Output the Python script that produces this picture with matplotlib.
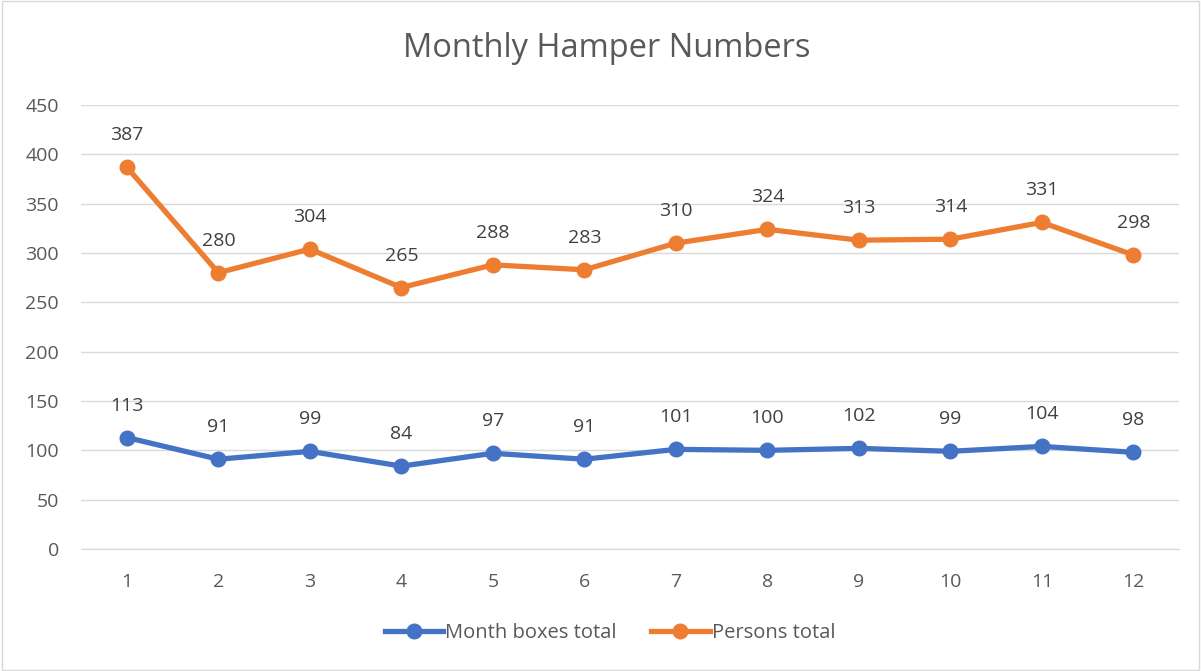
import matplotlib.pyplot as plt
from matplotlib.patches import Rectangle

months = [1, 2, 3, 4, 5, 6, 7, 8, 9, 10, 11, 12]
boxes = [113, 91, 99, 84, 97, 91, 101, 100, 102, 99, 104, 98]
persons = [387, 280, 304, 265, 288, 283, 310, 324, 313, 314, 331, 298]

blue = '#4472C4'
orange = '#ED7D31'
txt = '#595959'

plt.rcParams['font.family'] = ['Open Sans', 'DejaVu Sans']

fig = plt.figure(figsize=(12.01, 6.71), dpi=100)
fig.patches.append(Rectangle((0.002, 0.002), 0.996, 0.996, transform=fig.transFigure,
                             fill=False, edgecolor='#D9D9D9', linewidth=1))
ax = fig.add_axes([0.0675, 0.1818, 0.9143, 0.6617])

ax.plot(months, boxes, '-o', color=blue, linewidth=3.8, markersize=10.5, label='Month boxes total')
ax.plot(months, persons, '-o', color=orange, linewidth=3.8, markersize=10.5, label='Persons total')

# data labels above every point
for x, y in zip(months, boxes):
    ax.annotate(str(y), (x, y), xytext=(0, 23), textcoords='offset points',
                ha='center', va='center', fontsize=14, color='#404040')
for x, y in zip(months, persons):
    ax.annotate(str(y), (x, y), xytext=(0, 23), textcoords='offset points',
                ha='center', va='center', fontsize=14, color='#404040')

ax.set_xlim(0.5, 12.5)
ax.set_ylim(0, 450)
ax.set_yticks(range(0, 451, 50))
ax.set_xticks(months)
ax.grid(axis='y', color='#D9D9D9', linewidth=1)
ax.set_axisbelow(True)
for s in ['top', 'right', 'left']:
    ax.spines[s].set_visible(False)
ax.spines['bottom'].set_color('#D9D9D9')
ax.tick_params(axis='both', length=0, labelsize=14, labelcolor=txt)
ax.tick_params(axis='x', pad=17)
ax.tick_params(axis='y', pad=16)

fig.text(0.505, 0.928, 'Monthly Hamper Numbers', ha='center', va='center', fontsize=23.5, color=txt)

fig.legend(loc='center', bbox_to_anchor=(0.508, 0.057), ncol=2, frameon=False,
           fontsize=14.5, labelcolor=txt, handlelength=2.9, handletextpad=0.1, columnspacing=1.7)

fig.savefig('out.png', dpi=100)
